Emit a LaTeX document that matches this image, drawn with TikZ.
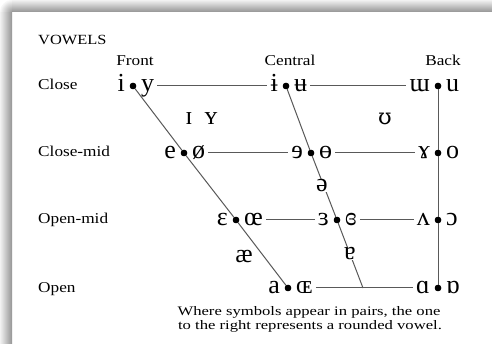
\documentclass[tikz,border=0pt]{standalone}
\usepackage{fontspec}
\usepackage{graphicx}
\setmainfont{Liberation Serif}
\newfontfamily\altipa{DejaVu Serif}
\newcommand\wide[2][1.15]{\scalebox{#1}[1]{#2}}
\tikzset{
  lab/.style={inner sep=0pt, font=\fontsize{15}{17}\selectfont},
  hdr/.style={inner sep=0pt, anchor=base, font=\fontsize{15}{17}\selectfont},
  sym/.style={inner sep=0pt, font=\fontsize{26}{28}\selectfont},
  symL/.style={sym, anchor=base east},
  symR/.style={sym, anchor=base west},
  xsym/.style={sym, anchor=base},
  vdot/.style={circle, fill=black, inner sep=0pt, minimum size=6.5pt},
  chart/.style={draw=black!65, line width=1pt},
  hline/.style={chart, shorten <=3pt, shorten >=3pt},
  captxt/.style={inner sep=0pt, anchor=base, font=\fontsize{13}{15}\selectfont}
}
\begin{document}
\begin{tikzpicture}[x=1pt, y=-1pt]
\useasboundingbox (0,0) rectangle (492,344);
\fill[white] (0,0) rectangle (492,344);
% shadow frame
\shade[top color=black!5, bottom color=black!42] (12,0) rectangle (492,12);
\shade[left color=black!5, right color=black!42] (0,12) rectangle (12,344);
\begin{scope}
\clip (0,0) rectangle (12,12);
\shade[inner color=black!40, outer color=black!3] (12,12) circle (12);
\end{scope}

% labels
\node[lab, anchor=base west] (vow) at (38,45) {\wide[1.17]{\fontsize{14}{16}\selectfont VOWELS}};
\node[hdr] (front) at (135,66) {\wide{Front}};
\node[hdr] (central) at (290,66) {\wide{Central}};
\node[hdr] (back) at (443,66) {\wide{Back}};
\node[lab, anchor=base west] (lclose) at (38,90) {\wide{Close}};
\node[lab, anchor=base west] (lclosemid) at (38,157) {\wide{Close-mid}};
\node[lab, anchor=base west] (lopenmid) at (38,224) {\wide{Open-mid}};
\node[lab, anchor=base west] (lopen) at (38,292) {\wide{Open}};

% dots
\node[vdot] (f1) at (133,86) {};
\node[vdot] (f2) at (184,153) {};
\node[vdot] (f3) at (236,220) {};
\node[vdot] (f4) at (288,288) {};
\node[vdot] (c1) at (286,86) {};
\node[vdot] (c2) at (311,153) {};
\node[vdot] (c3) at (337,220) {};
\coordinate (c4) at (363,288);
\node[vdot] (b1) at (438,86) {};
\node[vdot] (b2) at (438,153) {};
\node[vdot] (b3) at (438,220) {};
\node[vdot] (b4) at (438,288) {};

% symbols
\node[symL] (f1l) at (125,92) {i};
\node[symR] (f1r) at (141,92) {y};
\node[symL] (c1l) at (278,92) {ɨ};
\node[symR] (c1r) at (294,92) {ʉ};
\node[symL] (b1l) at (430,92) {ɯ};
\node[symR] (b1r) at (446,92) {u};

\node[symL] (f2l) at (176,159) {e};
\node[symR] (f2r) at (192,159) {ø};
\node[symL] (c2l) at (303,159) {ɘ};
\node[symR] (c2r) at (319,159) {ɵ};
\node[symL] (b2l) at (430,159) {ɤ};
\node[symR] (b2r) at (446,159) {o};

\node[symL] (f3l) at (228,226) {ɛ};
\node[symR] (f3r) at (244,226) {œ};
\node[symL] (c3l) at (329,226) {ɜ};
\node[symR] (c3r) at (345,226) {ɞ};
\node[symL] (b3l) at (430,226) {ʌ};
\node[symR] (b3r) at (446,226) {ɔ};

\node[symL] (f4l) at (280,294) {a};
\node[symR] (f4r) at (296,294) {ɶ};
\node[symL] (b4l) at (430,294) {ɑ};
\node[symR] (b4r) at (446,294) {ɒ};

% connectors
\draw[chart] (f1) -- (f2) -- (f3) -- (f4);
\draw[chart] (c1) -- (c2) -- (c3) -- (c4);
\draw[chart] (b1) -- (b2) -- (b3) -- (b4);
\draw[hline] (f1r.east |- f1) -- (c1l.west |- c1);
\draw[hline] (c1r.east |- c1) -- (b1l.west |- b1);
\draw[hline] (f2r.east |- f2) -- (c2l.west |- c2);
\draw[hline] (c2r.east |- c2) -- (b2l.west |- b2);
\draw[hline] (f3r.east |- f3) -- (c3l.west |- c3);
\draw[hline] (c3r.east |- c3) -- (b3l.west |- b3);
\draw[hline] (f4r.east |- f4) -- (b4l.west |- b4);

% redraw dots on top
\foreach \d in {f1,f2,f3,f4,c1,c2,c3,b1,b2,b3,b4}{\fill (\d) circle (3.2pt);}

% extra symbols
\node[xsym] (ismall) at (189,125) {ɪ};
\node[xsym] (ysmall) at (211,125) {ʏ};
\node[xsym, font=\altipa\fontsize{22}{24}\selectfont] (upsilon) at (385,125) {ʊ};
\node[xsym, fill=white, inner xsep=1pt] (schwa) at (322,192) {ə};
\node[xsym] (ae) at (244,263) {æ};
\node[xsym, fill=white, inner xsep=1pt] (turneda) at (350,260) {ɐ};

% caption
\node[captxt] (capA) at (309,316) {\wide[1.28]{Where symbols appear in pairs, the one}};
\node[captxt] (capB) at (310,329) {\wide[1.28]{to the right represents a rounded vowel.}};
\end{tikzpicture}
\end{document}
